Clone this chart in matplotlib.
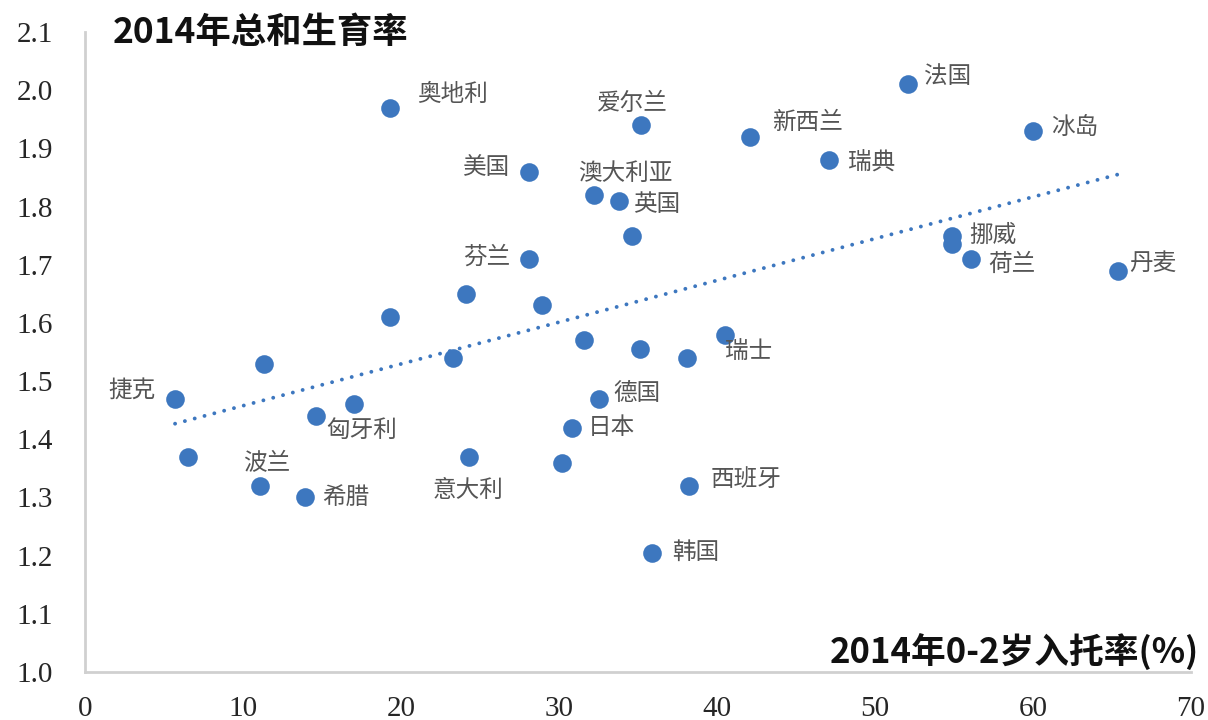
import matplotlib
matplotlib.use("Agg")
import matplotlib.pyplot as plt
import numpy as np

# ---- data ----
countries = ["捷克", "", "", "波兰", "希腊", "匈牙利", "", "", "奥地利", "",
             "", "意大利", "芬兰", "美国", "", "", "日本", "", "澳大利亚", "德国",
             "英国", "", "爱尔兰", "", "韩国", "", "西班牙", "瑞士", "新西兰", "瑞典",
             "法国", "挪威", "", "荷兰", "冰岛", "丹麦"]
enrol = [5.7, 6.5, 11.3, 11.1, 13.9, 14.6, 17.0, 19.3, 19.3, 23.3,
         24.1, 24.3, 28.1, 28.1, 28.9, 30.2, 30.8, 31.6, 32.2, 32.5,
         33.8, 34.6, 35.2, 35.1, 35.9, 38.1, 38.2, 40.5, 42.1, 47.1,
         52.1, 54.9, 54.9, 56.1, 60.0, 65.4]
tfr = [1.47, 1.37, 1.53, 1.32, 1.30, 1.44, 1.46, 1.61, 1.97, 1.54,
       1.65, 1.37, 1.71, 1.86, 1.63, 1.36, 1.42, 1.57, 1.82, 1.47,
       1.81, 1.75, 1.94, 1.555, 1.205, 1.54, 1.32, 1.58, 1.92, 1.88,
       2.01, 1.75, 1.735, 1.71, 1.93, 1.69]
x_ticks = [0, 10, 20, 30, 40, 50, 60, 70]
y_ticks = [1.0, 1.1, 1.2, 1.3, 1.4, 1.5, 1.6, 1.7, 1.8, 1.9, 2.0, 2.1]
title_text = "2014年总和生育率"
xlabel_text = "2014年0-2岁入托率(%)"

# label placement (pixel offsets from point, +y up) and alignment
label_style = {
    "捷克": (-19, 8, "right"), "波兰": (6, 22, "center"), "希腊": (18, 0, "left"),
    "匈牙利": (11, -14, "left"), "奥地利": (27, 13, "left"), "意大利": (-1, -34, "center"),
    "芬兰": (-19, 2, "right"), "美国": (-19, 4, "right"), "日本": (16, 0, "left"),
    "澳大利亚": (32, 21, "center"), "德国": (15, 5, "left"), "英国": (14, -4, "left"),
    "爱尔兰": (-9, 22, "center"), "韩国": (20, 0, "left"), "西班牙": (22, 6, "left"),
    "瑞士": (0, -17, "left"), "新西兰": (22, 14, "left"), "瑞典": (19, -3, "left"),
    "法国": (16, 8, "left"), "挪威": (17, 0, "left"), "荷兰": (17, -5, "left"),
    "冰岛": (18, 2, "left"), "丹麦": (11, 7, "left"),
}

blue = "#3D77BF"
cjk = ["Noto Sans CJK SC", "DejaVu Sans"]

W, H = 1208, 720
fig = plt.figure(figsize=(W / 100, H / 100), dpi=100)
ax = fig.add_axes([85 / W, (H - 672) / H, (1191 - 85) / W, (672 - 32) / H])

ax.scatter(enrol, tfr, s=180, color=blue, zorder=3, linewidths=0)

# linear trend line
xa = np.array(enrol)
coef = np.polyfit(xa, np.array(tfr), 1)
xs = np.array([xa.min(), xa.max()])
ax.plot(xs, np.polyval(coef, xs), color=blue, lw=2.8, ls=(0, (0.01, 2.6)),
        dash_capstyle="round", zorder=2)

px2pt = 0.72
for name, xv, yv in zip(countries, enrol, tfr):
    if not name:
        continue
    dx, dy, ha = label_style[name]
    ax.annotate(name, (xv, yv), xytext=(dx * px2pt, dy * px2pt),
                textcoords="offset points", ha=ha, va="center",
                fontsize=17, color="#555555", family=cjk, zorder=4)

ax.set_xlim(0, 70)
ax.set_ylim(1.0, 2.1)
ax.set_xticks(x_ticks)
ax.set_yticks(y_ticks)
ax.set_xticklabels([str(v) for v in x_ticks])
ax.set_yticklabels([f"{v:.1f}" for v in y_ticks])
ax.tick_params(length=0, labelsize=21, labelcolor="#262626")
ax.tick_params(axis="y", pad=23)
ax.tick_params(axis="x", pad=17)
for lab in ax.get_xticklabels() + ax.get_yticklabels():
    lab.set_family("Liberation Serif")

for side in ["top", "right"]:
    ax.spines[side].set_visible(False)
for side in ["left", "bottom"]:
    ax.spines[side].set_color("#d0d0d0")
    ax.spines[side].set_linewidth(2)

fig.text(113 / W, 1 - 33 / H, title_text, ha="left", va="center",
         fontsize=25.5, fontweight="bold", family=cjk, color="#111111")
fig.text(1199 / W, 1 - 652 / H, xlabel_text, ha="right", va="center",
         fontsize=25, fontweight="bold", family=cjk, color="#111111")

fig.savefig("out.png", dpi=100, facecolor="white")
